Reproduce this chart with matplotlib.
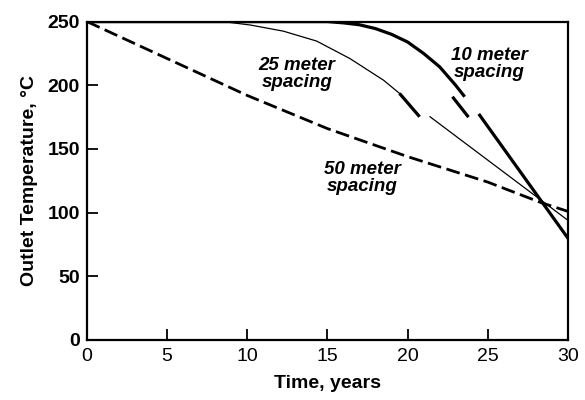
import matplotlib
matplotlib.use("Agg")
import matplotlib.pyplot as plt

plt.rcParams["font.family"] = ["Liberation Sans", "DejaVu Sans"]

# 50 meter spacing (dashed)
yr_50 = [0, 5, 10, 15, 20, 25, 28.3, 30]
t_50 = [250, 221, 192, 166, 144, 124, 108, 101]

# 25 meter spacing (thin), drawn in three visible pieces
yr_25a = [0, 8.5, 10.2, 12.25, 14.33, 16.4, 18.5, 19.5]
t_25a = [250, 250, 247.3, 242.5, 234.7, 221, 204, 193.6]
yr_25b = [19.5, 20.75]
t_25b = [193.6, 175.3]
yr_25c = [21.4, 30]
t_25c = [175.3, 94]

# 10 meter spacing (thick), three visible pieces
yr_10a = [0, 15, 16, 17, 18, 19, 20, 21, 22, 23, 23.5]
t_10a = [250, 250, 249, 247.5, 244.5, 240, 234, 225, 214.5, 200, 192]
yr_10b = [22.8, 23.8]
t_10b = [191, 175]
yr_10c = [24.5, 30]
t_10c = [176.5, 80]

xticks = [0, 5, 10, 15, 20, 25, 30]
yticks = [0, 50, 100, 150, 200, 250]

fig = plt.figure(figsize=(5.85, 4), dpi=100)
ax = fig.add_axes([0.1487, 0.15, 0.822, 0.796])

ax.plot(yr_50, t_50, color="black", lw=2.0, ls=(0, (5.0, 2.0)))
ax.plot(yr_25a, t_25a, color="black", lw=0.9)
ax.plot(yr_25b, t_25b, color="black", lw=2.3, solid_capstyle="butt")
ax.plot(yr_25c, t_25c, color="black", lw=0.9)
ax.plot(yr_10a, t_10a, color="black", lw=2.3)
ax.plot(yr_10b, t_10b, color="black", lw=2.3, solid_capstyle="butt")
ax.plot(yr_10c, t_10c, color="black", lw=2.3)

lab = dict(fontsize=13.5, fontweight="bold", fontstyle="italic", ha="center",
           va="center", linespacing=1.0)
ax.text(13.1, 209, "25 meter\nspacing", **lab)
ax.text(25.1, 217, "10 meter\nspacing", **lab)
ax.text(17.2, 127, "50 meter\nspacing", **lab)

ax.set_xlim(0, 30)
ax.set_ylim(0, 250)
ax.set_xticks(xticks)
ax.set_yticks(yticks)
ax.set_xticklabels([str(v) for v in xticks], fontsize=14)
ax.set_yticklabels([str(v) for v in yticks], fontsize=14, fontweight="bold")
ax.tick_params(direction="in", length=8, width=1.3)
ax.tick_params(axis="x", pad=6)
ax.tick_params(axis="y", pad=5)
for s in ax.spines.values():
    s.set_linewidth(1.6)
ax.set_xlabel("Time, years", fontsize=14, fontweight="bold", labelpad=7)
ax.set_ylabel("Outlet Temperature, °C", fontsize=14, fontweight="bold", labelpad=7)

fig.savefig("out.png", dpi=100, facecolor="white")
